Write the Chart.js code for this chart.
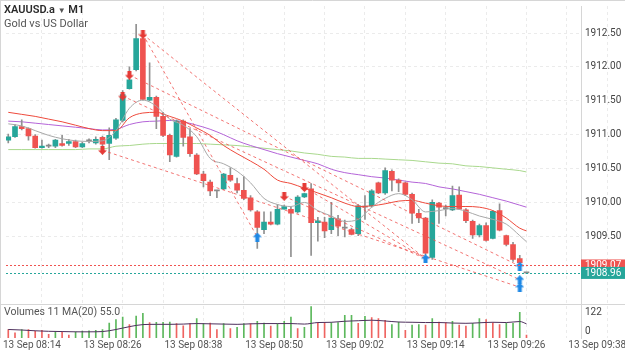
<!DOCTYPE html>
<html><head><meta charset="utf-8">
<script src="https://cdn.jsdelivr.net/npm/chart.js@4/dist/chart.umd.min.js"></script>
<style>
html,body{margin:0;padding:0;background:#fff;}
#wrap{position:relative;width:625px;height:352px;overflow:hidden;font-family:Roboto,'Liberation Sans',sans-serif;}
canvas{position:absolute;left:0;top:0;}
.t1{position:absolute;left:4px;top:3px;font-size:11px;font-weight:600;color:#2a2a2a;}
.t1 small{font-size:8px;color:#555;}
.t2{position:absolute;left:4px;top:17px;font-size:11px;color:#555;}
.t3{position:absolute;left:4px;top:305px;font-size:10.5px;color:#555;}
</style></head>
<body><div id="wrap"><canvas id="c" width="625" height="352"></canvas>
<div class="t1">XAUUSD.a <small>▼</small> M1</div><div class="t2">Gold vs US Dollar</div><div class="t3">Volumes 11 MA(20) 55.0</div></div>
<script>
const times = ['08:09','08:10','08:11','08:12','08:13','08:14','08:15','08:16','08:17','08:18',
'08:19','08:20','08:21','08:22','08:23','08:24','08:25','08:26','08:27','08:28',
'08:29','08:30','08:31','08:32','08:33','08:34','08:35','08:36','08:37','08:38',
'08:39','08:40','08:41','08:42','08:43','08:44','08:45','08:46','08:47','08:48',
'08:49','08:50','08:51','08:52','08:53','08:54','08:55','08:56','08:57','08:58',
'08:59','09:00','09:01','09:02','09:03','09:04','09:05','09:06','09:07','09:08',
'09:09','09:10','09:11','09:12','09:13','09:14','09:15','09:16','09:17','09:18',
'09:19','09:20','09:21','09:22','09:23','09:24','09:25','09:26'];

const open = [1910.92,1910.97,1911.12,1911.09,1910.98,1910.81,1910.83,1910.83,1910.87,1910.87,
1910.90,1910.82,1910.91,1910.88,1910.96,1910.87,1910.95,1911.21,1911.68,1911.96,
1912.42,1911.51,1911.55,1911.27,1910.99,1910.68,1911.20,1910.97,1910.70,1910.42,
1910.30,1910.17,1910.20,1910.40,1910.28,1910.18,1910.07,1909.86,1909.60,1909.71,
1909.68,1909.90,1909.90,1909.86,1910.08,1910.20,1909.70,1909.71,1909.60,1909.76,
1909.62,1909.60,1909.54,1909.93,1909.95,1910.29,1910.14,1910.46,1910.33,1910.29,
1910.12,1909.84,1909.77,1909.19,1909.99,1909.91,1909.89,1910.11,1909.89,1909.72,
1909.52,1909.66,1909.47,1909.88,1909.51,1909.38,1909.17,1908.96];
const high = [1911.01,1911.15,1911.22,1911.10,1911.00,1910.92,1910.86,1910.93,1910.99,1910.93,
1910.92,1910.89,1910.94,1910.97,1910.98,1911.10,1911.24,1911.65,1912.00,1912.63,
1912.43,1912.06,1911.57,1911.33,1911.01,1911.22,1911.22,1911.09,1910.72,1910.46,
1910.33,1910.17,1910.43,1910.51,1910.36,1910.38,1910.10,1909.88,1909.86,1909.86,
1909.97,1909.96,1909.93,1910.10,1910.14,1910.28,1909.78,1909.78,1910.00,1909.81,
1909.74,1909.62,1909.97,1910.10,1910.19,1910.30,1910.51,1910.48,1910.35,1910.30,
1910.14,1909.90,1909.78,1910.04,1910.00,1909.96,1910.24,1910.23,1909.91,1909.74,
1909.68,1909.70,1909.88,1909.98,1909.52,1909.41,1909.22,1908.97];
const low = [1910.88,1910.96,1911.07,1910.92,1910.80,1910.80,1910.81,1910.81,1910.83,1910.84,
1910.81,1910.81,1910.88,1910.86,1910.72,1910.63,1910.93,1911.19,1911.67,1911.94,
1911.51,1911.50,1911.09,1910.97,1910.60,1910.67,1910.83,1910.68,1910.41,1910.23,
1910.10,1910.07,1910.19,1910.31,1910.14,1910.04,1909.87,1909.32,1909.54,1909.67,
1909.67,1909.90,1909.20,1909.84,1910.07,1909.22,1909.43,1909.48,1909.54,1909.51,
1909.49,1909.52,1909.51,1909.75,1909.93,1910.13,1910.12,1910.17,1910.16,1910.10,
1909.69,1909.70,1909.23,1909.16,1909.69,1909.80,1909.88,1909.90,1909.70,1909.47,
1909.49,1909.43,1909.46,1909.58,1909.36,1909.13,1909.09,1908.95];
const close = [1910.97,1911.12,1911.09,1910.98,1910.81,1910.83,1910.83,1910.92,1910.84,1910.90,
1910.82,1910.87,1910.91,1910.93,1910.86,1910.99,1911.22,1911.59,1911.81,1912.42,
1911.52,1911.55,1911.27,1910.99,1910.70,1911.20,1910.96,1910.72,1910.42,1910.32,
1910.17,1910.17,1910.42,1910.33,1910.18,1910.06,1909.89,1909.63,1909.71,1909.68,
1909.90,1909.94,1909.84,1910.08,1910.13,1909.70,1909.73,1909.58,1909.77,1909.65,
1909.62,1909.53,1909.95,1909.93,1910.17,1910.14,1910.47,1910.33,1910.29,1910.12,
1909.84,1909.77,1909.25,1910.00,1909.93,1909.91,1910.10,1909.90,1909.73,1909.52,
1909.66,1909.44,1909.87,1909.59,1909.38,1909.16,1909.11,1908.96];

const volume = [33,20,33,33,27,30,14,24,24,11,
24,27,28,30,33,58,71,81,52,85,
96,60,61,61,62,56,47,56,75,56,
58,33,56,37,41,56,56,65,58,46,
56,65,81,37,41,122,60,60,60,60,
88,88,57,84,79,75,69,52,62,30,
50,52,50,75,62,60,65,50,46,57,
75,71,60,52,57,57,100,11];
const volUp = [0,0,1,0,0,0,0,1,0,0,
1,1,1,1,1,1,1,1,0,1,
1,0,1,1,1,0,0,0,1,1,
0,0,1,0,1,1,0,1,1,0,
1,1,1,0,1,1,0,0,1,1,
1,1,0,1,0,0,0,1,1,0,
1,1,0,1,0,0,1,0,0,1,
1,0,0,0,1,1,1,0];

const maIdx = [0,2,4,6,8,10,12,14,16,18,20,22,24,26,28,30,32,34,36,38,40,42,44,46,48,50,52,54,56,58,60,62,64,66,68,70,72,74,76,77];
const maFast = [1911.16,1911.13,1911.06,1910.99,1910.94,1910.91,1910.90,1910.91,1911.06,1911.39,1911.51,1911.42,1911.23,1911.14,1910.97,1910.65,1910.57,1910.46,1910.29,1910.06,1909.97,1909.94,1910.00,1909.88,1909.80,1909.72,1909.75,1909.93,1910.06,1910.13,1910.04,1909.86,1909.88,1909.91,1909.87,1909.80,1909.75,1909.68,1909.51,1909.42];
const maMid = [1911.33,1911.30,1911.27,1911.23,1911.19,1911.14,1911.09,1911.06,1911.06,1911.25,1911.32,1911.33,1911.27,1911.20,1911.10,1910.99,1910.84,1910.72,1910.61,1910.49,1910.33,1910.28,1910.21,1910.14,1910.07,1909.99,1909.94,1909.95,1909.98,1910.02,1910.03,1909.99,1909.95,1909.94,1909.94,1909.93,1909.88,1909.77,1909.62,1909.58];
const maSlow = [1911.20,1911.19,1911.17,1911.15,1911.13,1911.11,1911.09,1911.07,1911.08,1911.15,1911.19,1911.20,1911.21,1911.19,1911.14,1911.08,1911.00,1910.91,1910.84,1910.78,1910.72,1910.67,1910.62,1910.57,1910.49,1910.44,1910.41,1910.38,1910.36,1910.33,1910.30,1910.28,1910.23,1910.20,1910.16,1910.12,1910.07,1910.02,1909.96,1909.93];
const maLong = [1910.78,1910.78,1910.78,1910.78,1910.78,1910.78,1910.79,1910.79,1910.83,1910.84,1910.86,1910.87,1910.87,1910.87,1910.87,1910.86,1910.85,1910.84,1910.82,1910.80,1910.78,1910.76,1910.73,1910.71,1910.68,1910.67,1910.65,1910.65,1910.64,1910.63,1910.62,1910.60,1910.58,1910.57,1910.54,1910.53,1910.51,1910.49,1910.47,1910.45];
const volMa = [33,31,28,26,25,24,24,25,33,44,52,53,53,54,56,55,54,53,55,56,56,56,54,60,61,65,67,69,66,62,61,60,60,58,57,59,61,60,64,55];

const sellIdx = [14,17,18,20,41,44];
const sellPrice = [1910.77,1911.57,1911.88,1912.48,1910.09,1910.22];
const buyIdx = [37,62,76,76,76];
const buyPrice = [1909.49,1909.17,1909.06,1908.86,1908.75];
const tradeOpenIdx = [20,20,18,17,14,41,44];
const tradeOpenPrice = [1912.48,1912.48,1911.88,1911.57,1910.77,1910.09,1910.22];
const tradeCloseIdx = [37,62,76,76,76,62,62];
const tradeClosePrice = [1909.49,1909.17,1909.06,1908.86,1908.75,1909.17,1909.17];

const priceTicks = [1909.5,1910,1910.5,1911,1911.5,1912,1912.5];
const timeTickIdx = [5,11,17,23,29,35,41,47,53,59,65,71,77,83,89];
const timeTickLabels = ['13 Sep 08:14','','13 Sep 08:26','','13 Sep 08:38','','13 Sep 08:50','','13 Sep 09:02','','13 Sep 09:14','','13 Sep 09:26','','13 Sep 09:38'];
const askPrice = 1909.07;
const bidPrice = 1908.96;
const volMaxLabel = 122;

const C_UP = '#26a69a', C_DN = '#ef5350';
const FONT = "Roboto, 'Liberation Sans', sans-serif";
Chart.defaults.font.family = FONT;

function arrowCanvas(color, up) {
  const c = document.createElement('canvas'); c.width = 9; c.height = 9;
  const g = c.getContext('2d'); g.fillStyle = color; g.beginPath();
  if (up) { g.moveTo(4.5,0); g.lineTo(9,4.5); g.lineTo(6.5,4.5); g.lineTo(6.5,9); g.lineTo(2.5,9); g.lineTo(2.5,4.5); g.lineTo(0,4.5); }
  else { g.moveTo(2.5,0); g.lineTo(6.5,0); g.lineTo(6.5,4.5); g.lineTo(9,4.5); g.lineTo(4.5,9); g.lineTo(0,4.5); g.lineTo(2.5,4.5); }
  g.closePath(); g.fill(); return c;
}

const idx = times.map((t, i) => i);
const lineOf = vals => maIdx.map((x, k) => ({x, y: vals[k]}));
const maStyle = (color, order, yAxisID) => ({type:'line', borderColor:color, borderWidth:1, pointRadius:0, cubicInterpolationMode:'monotone', order, yAxisID});

const datasets = [
  {type:'bar', data: idx.map(i => ({x:i, y: volume[i]})), yAxisID:'yv', grouped:false, barThickness:1,
   backgroundColor: volUp.map(u => u ? '#5cb85c' : '#ef6461'), order: 30},
  Object.assign({data: lineOf(volMa)}, maStyle('#4d2f5c', 29, 'yv')),
  Object.assign({data: lineOf(maLong)}, maStyle('#a9d88d', 25, 'y')),
  Object.assign({data: lineOf(maSlow)}, maStyle('#b464d8', 24, 'y')),
  {type:'bar', data: idx.map(i => ({x:i, y:[low[i], high[i]]})), yAxisID:'y', grouped:false, barThickness:1,
   minBarLength:1, backgroundColor:'#909090', order: 22},
  {type:'bar', data: idx.map(i => ({x:i, y:[open[i], close[i]]})), yAxisID:'y', grouped:false, barThickness:5,
   minBarLength:1, backgroundColor: idx.map(i => close[i] > open[i] ? C_UP : (close[i] < open[i] ? C_DN : '#8a8a8a')), order: 21},
  Object.assign({data: lineOf(maMid)}, maStyle('#ee4a3c', 15, 'y')),
  Object.assign({data: lineOf(maFast)}, maStyle('#a8a8a8', 14, 'y')),
];
tradeOpenIdx.forEach((o, k) => {
  datasets.push({type:'line', yAxisID:'y', data:[{x:o, y:tradeOpenPrice[k]}, {x:tradeCloseIdx[k], y:tradeClosePrice[k]}],
    borderColor:'rgba(239,83,80,0.8)', borderWidth:1, borderDash:[3,3], pointRadius:0, order: 5});
});
datasets.push({type:'line', yAxisID:'y', showLine:false, data: sellIdx.map((x,k)=>({x, y:sellPrice[k]})),
  pointStyle: arrowCanvas('#e53935', false), pointRadius:5, order: 2});
datasets.push({type:'line', yAxisID:'y', showLine:false, data: buyIdx.map((x,k)=>({x, y:buyPrice[k]})),
  pointStyle: arrowCanvas('#1e88e5', true), pointRadius:5, order: 1});

const extras = {
  id: 'extras',
  afterDatasetsDraw(chart) {
    const {ctx, chartArea: a, scales: {y}} = chart;
    ctx.save();
    ctx.lineWidth = 1; ctx.setLineDash([2,2]);
    [[askPrice, C_DN], [bidPrice, C_UP]].forEach(([p, col]) => {
      const py = Math.round(y.getPixelForValue(p)) + 0.5;
      ctx.strokeStyle = col; ctx.beginPath(); ctx.moveTo(a.left, py); ctx.lineTo(a.right, py); ctx.stroke();
    });
    ctx.restore();
  },
  afterDraw(chart) {
    const {ctx, chartArea: a, scales: {y, yv}, width} = chart;
    ctx.save();
    ctx.strokeStyle = '#d6d6d6'; ctx.lineWidth = 1;
    ctx.beginPath(); ctx.moveTo(0, 0.5); ctx.lineTo(width, 0.5);
    ctx.moveTo(0.5, 0); ctx.lineTo(0.5, a.bottom);
    const sy = Math.round(yv.top) + 0.5; ctx.moveTo(0, sy); ctx.lineTo(width, sy); ctx.stroke();
    ctx.font = '10px ' + FONT; ctx.textAlign = 'left'; ctx.textBaseline = 'middle';
    [[askPrice, C_DN], [bidPrice, C_UP]].forEach(([p, col]) => {
      const py = y.getPixelForValue(p);
      ctx.fillStyle = col; ctx.fillRect(a.right, py - 6, width - a.right, 12);
      ctx.fillStyle = '#fff'; ctx.fillText(p.toFixed(2), a.right + 4, py + 0.5);
    });
    ctx.fillStyle = '#444';
    ctx.textBaseline = 'top'; ctx.fillText(String(volMaxLabel), a.right + 4, yv.getPixelForValue(volMaxLabel) + 1);
    ctx.textBaseline = 'bottom'; ctx.fillText('0', a.right + 4, yv.getPixelForValue(0) - 2);
    ctx.restore();
  }
};

new Chart(document.getElementById('c'), {
  type: 'bar',
  data: { datasets },
  plugins: [extras],
  options: {
    responsive: false, animation: false, events: [],
    layout: { padding: 0 },
    plugins: { legend: {display:false}, tooltip: {enabled:false} },
    scales: {
      x: {
        type: 'linear', position: 'bottom', min: -0.338, max: 85.1, offset: false,
        afterBuildTicks: s => { s.ticks = timeTickIdx.map(v => ({value: v})); },
        afterFit: s => { s.height = 14; s.paddingLeft = 0; s.paddingRight = 0; },
        ticks: { autoSkip:false, maxRotation:0, padding:1, labelOffset:-10, font:{size:10}, color:'#555',
                 callback: (v, i) => timeTickLabels[i] },
        grid: { color:'#ebebeb', drawTicks:false, offset:false },
        border: { display:false, dash:[3,3] }
      },
      y: {
        type: 'linear', position: 'right', stack: 'main', stackWeight: 303, min: 1908.507, max: 1912.899,
        afterBuildTicks: s => { s.ticks = priceTicks.map(v => ({value: v})); },
        afterFit: s => { s.width = 44; s.paddingTop = 0; s.paddingBottom = 0; },
        ticks: { padding:4, font:{size:10}, color:'#444', callback: v => Number(v).toFixed(2) },
        grid: { color:'#ebebeb', drawTicks:false },
        border: { color:'#d6d6d6', dash:[3,3] }
      },
      yv: {
        type: 'linear', position: 'right', stack: 'main', stackWeight: 35, min: 0, max: 133.4,
        afterFit: s => { s.width = 44; s.paddingTop = 0; s.paddingBottom = 0; },
        ticks: { display:false },
        grid: { display:false },
        border: { color:'#d6d6d6' }
      }
    }
  }
});
</script>
</body></html>
